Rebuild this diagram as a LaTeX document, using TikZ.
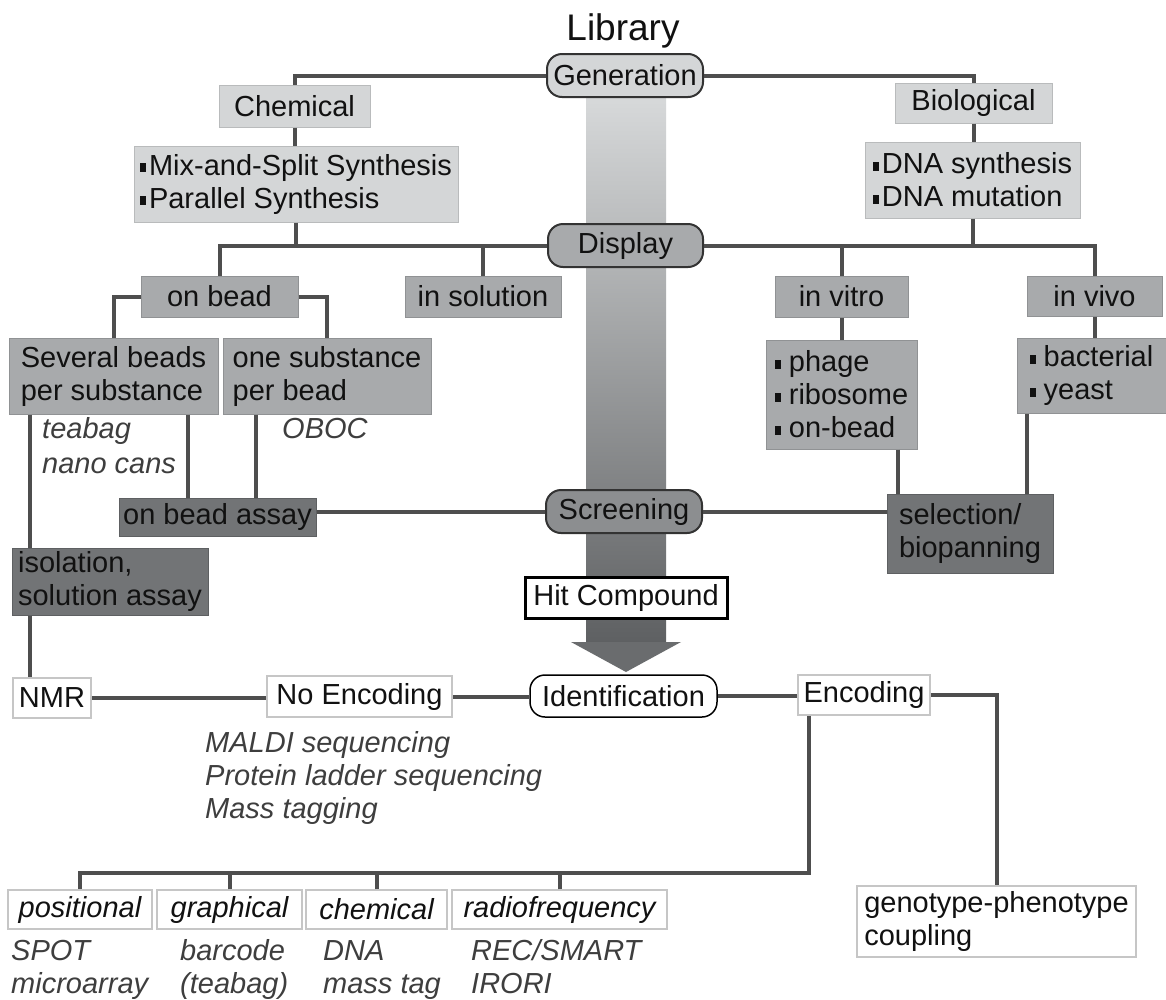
\documentclass[tikz,border=0pt]{standalone}
\usepackage{fontspec}
\setmainfont{Liberation Sans}
\definecolor{lc}{HTML}{4E4E4E}
\definecolor{tx}{HTML}{111111}
\definecolor{gy}{HTML}{3E3E3E}
\definecolor{lgF}{HTML}{D4D6D7}
\definecolor{lgD}{HTML}{B9BBBC}
\definecolor{mgF}{HTML}{A8AAAC}
\definecolor{mgD}{HTML}{909294}
\definecolor{dgF}{HTML}{727476}
\definecolor{dgD}{HTML}{5E6062}
\definecolor{scF}{HTML}{8C8E90}
\definecolor{wbD}{HTML}{C6C6C6}
\definecolor{arT}{HTML}{D8DADB}
\definecolor{arB}{HTML}{5E6062}
\definecolor{arH}{HTML}{6A6C6E}
\newcommand\blt[1][3pt]{\rule[3pt]{6pt}{9pt}\hspace{#1}}
\begin{document}
\begin{tikzpicture}[x=1pt,y=-1pt,
  every node/.style={font=\fontsize{29}{33}\selectfont, inner sep=0pt, text=tx},
  ln/.style={line width=4pt, draw=lc},
  lbox/.style={fill=lgF, draw=lgD, line width=1pt},
  mbox/.style={fill=mgF, draw=mgD, line width=1pt},
  dbox/.style={fill=dgF, draw=dgD, line width=1pt},
  wbox/.style={fill=white, draw=wbD, line width=1.5pt},
  rbox/.style={rounded corners=15pt, draw=black!80, line width=2pt},
  ann/.style={font=\fontsize{29}{33}\selectfont\itshape, text=gy, anchor=base west},
  ibox/.style={wbox, minimum height=39, font=\fontsize{29}{33}\selectfont\itshape}
]
\useasboundingbox (0,0) rectangle (1166,999);
\fill[white] (0,0) rectangle (1166,999);

% big arrow
\shade[top color=arT, bottom color=arB] (586,92) rectangle (666,643);
\fill[arH] (571,642) -- (681,642) -- (626,672) -- cycle;

% title
\node[font=\fontsize{37}{40}\selectfont, anchor=base] (title) at (623,40) {Library};

% generation level
\node[rbox, fill=lgF, minimum width=156, minimum height=43] (gen) at (625,75.5) {Generation};
\node[lbox, minimum width=151, minimum height=42] (chem) at (294.5,106) {Chemical};
\node[lbox, minimum width=157, minimum height=40] (bio) at (973.5,103) {Biological};
\node[lbox, minimum width=324, minimum height=76, align=left] (mix) at (296,184) {\blt Mix-and-Split Synthesis\\\blt Parallel Synthesis};
\node[lbox, minimum width=215, minimum height=76, align=left] (dna) at (972.5,180) {\blt DNA synthesis\\\blt DNA mutation};

% display level
\node[rbox, fill=mgF, minimum width=155, minimum height=43] (disp) at (625.5,245.5) {Display};
\node[mbox, minimum width=157, minimum height=41] (onbead) at (219.5,296.5) {on bead};
\node[mbox, minimum width=156, minimum height=41] (insol) at (483,296.5) {in solution};
\node[mbox, minimum width=133, minimum height=41] (invitro) at (841.5,296.5) {in vitro};
\node[mbox, minimum width=135, minimum height=40] (invivo) at (1094.5,296) {in vivo};
\node[mbox, minimum width=209, minimum height=76, align=left] (sev) at (113.5,376) {Several beads\\per substance};
\node[mbox, minimum width=208, minimum height=76, align=left] (one) at (327,376) {one substance\\per bead};
\node[mbox, minimum width=151, minimum height=109, align=left] (phage) at (841.5,394.5) {\blt[8pt]phage\\\blt[8pt]ribosome\\\blt[8pt]on-bead};
\node[mbox, minimum width=149, minimum height=75, align=left] (bact) at (1091.5,375.5) {\blt[8pt]bacterial\\\blt[8pt]yeast};

\node[ann] (ta) at (42,438) {teabag};
\node[ann] (tb) at (42,473) {nano cans};
\node[ann] (tc) at (282,438) {OBOC};

% screening level
\node[rbox, fill=scF, minimum width=156, minimum height=43] (scr) at (624,511.5) {Screening};
\node[dbox, minimum width=197, minimum height=38] (oba) at (217.5,517) {on bead assay};
\node[dbox, minimum width=196, minimum height=67, align=left] (iso) at (110,581.5) {isolation,\\solution assay};
\node[dbox, minimum width=166, minimum height=79, align=left] (sel) at (970,533.5) {selection/\\biopanning};
\node[fill=white, draw=black, line width=3pt, minimum width=202, minimum height=41] (hit) at (626,597.5) {Hit Compound};

% identification level
\node[rbox, fill=white, draw=black, line width=1.5pt, minimum width=187, minimum height=42] (ident) at (623.5,696) {Identification};
\node[wbox, minimum width=78, minimum height=40] (nmr) at (52,698) {NMR};
\node[wbox, minimum width=185, minimum height=41] (noenc) at (359.5,696.5) {No Encoding};
\node[wbox, minimum width=132, minimum height=40] (enc) at (864,695) {Encoding};
\node[ann] (ma) at (205,752) {MALDI sequencing};
\node[ann] (mb) at (205,785) {Protein ladder sequencing};
\node[ann] (mc) at (205,818) {Mass tagging};

\node[wbox, minimum width=279, minimum height=71, align=left] (geno) at (996.5,921.5) {genotype-phenotype\\coupling};
\node[ibox, minimum width=144] (posit) at (80,909.5) {positional};
\node[ibox, minimum width=145] (graph) at (229.5,909.5) {graphical};
\node[ibox, minimum width=141] (chemb) at (376.5,909.5) {chemical};
\node[ibox, minimum width=215] (radio) at (559.5,909.5) {radiofrequency};

\node[ann] (ba) at (11,960) {SPOT};
\node[ann] (bb) at (11,993) {microarray};
\node[ann] (bc) at (180,960) {barcode};
\node[ann] (bd) at (180,993) {(teabag)};
\node[ann] (be) at (323,960) {DNA};
\node[ann] (bf) at (323,993) {mass tag};
\node[ann] (bg) at (471,960) {REC/SMART};
\node[ann] (bh) at (471,993) {IRORI};

% connectors
\draw[ln] (gen.west) -| (chem.north);
\draw[ln] (gen.east) -| (bio.north);
\draw[ln] (chem.south) -- (chem.south |- mix.north);
\draw[ln] (bio.south) -- (bio.south |- dna.north);
\draw[ln] (disp.west) -| (onbead.north);
\draw[ln] (mix.south) -- (mix.south |- disp.west);
\draw[ln] (insol.north) -- (insol.north |- disp.west);
\draw[ln] (disp.east) -| (invivo.north);
\draw[ln] (dna.south) -- (dna.south |- disp.east);
\draw[ln] (invitro.north) -- (invitro.north |- disp.east);
\draw[ln] (invitro.south) -- (invitro.south |- phage.north);
\draw[ln] (invivo.south) -- (invivo.south |- bact.north);
\draw[ln] (onbead.west) -| (sev.north);
\draw[ln] (onbead.east) -| (one.north);
\coordinate (p1) at ([xshift=-20pt]phage.south east);
\draw[ln] (p1) -- (p1 |- sel.north);
\coordinate (p2) at ([xshift=10pt]bact.south west);
\draw[ln] (p2) -- (p2 |- sel.north);
\draw[ln] (scr.east) -- (scr.east -| sel.west);
\draw[ln] (scr.west) -- (scr.west -| oba.east);
\coordinate (s1) at ([xshift=21pt]sev.south west);
\coordinate (s2) at ([xshift=-31pt]sev.south east);
\coordinate (s3) at ([xshift=33pt]one.south west);
\draw[ln] (s2) -- (s2 |- oba.north);
\draw[ln] (s3) -- (s3 |- oba.north);
\draw[ln] (s1) -- (s1 |- iso.north);
\draw[ln] (s1 |- iso.south) -- (s1 |- nmr.north);
\draw[ln] (nmr.east) -- (nmr.east -| noenc.west);
\draw[ln] (noenc.east) -- (noenc.east -| ident.west);
\draw[ln] (ident.east) -- (ident.east -| enc.west);
\draw[ln] (enc.east) -| (geno.north);
\coordinate (barY) at (0,873);
\coordinate (e1) at ([xshift=12pt]enc.south west);
\draw[ln] (e1) |- (posit.north |- barY) -- (posit.north);
\foreach \n in {graph,chemb,radio} \draw[ln] (\n.north) -- (\n.north |- barY);
\end{tikzpicture}
\end{document}
